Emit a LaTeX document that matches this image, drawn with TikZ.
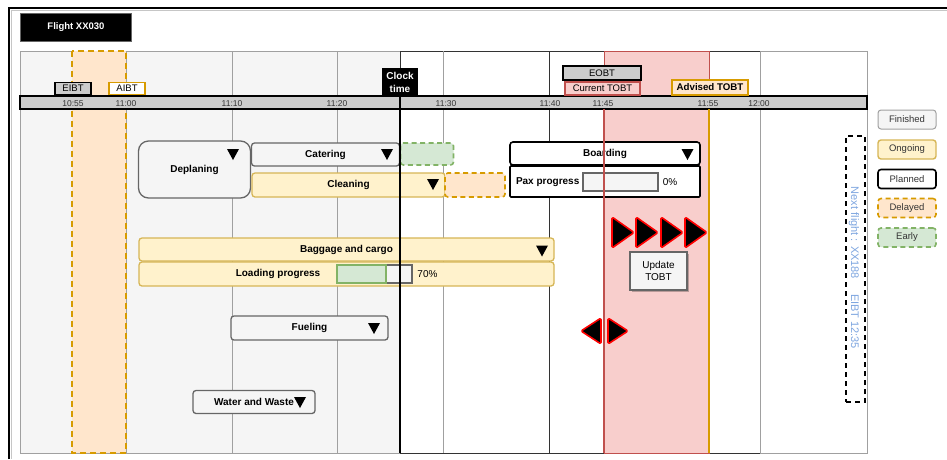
\documentclass[tikz,border=0pt]{standalone}
\usepackage{fontspec}
\setmainfont{Liberation Sans}
\usetikzlibrary{shadows}

\definecolor{pastfill}{HTML}{F5F5F5}
\definecolor{gridgray}{HTML}{A0A0A0}
\definecolor{griddark}{HTML}{333333}
\definecolor{finfill}{HTML}{F5F5F5}
\definecolor{finline}{HTML}{666666}
\definecolor{ongfill}{HTML}{FFF2CC}
\definecolor{ongline}{HTML}{D6B656}
\definecolor{delfill}{HTML}{FFE6CC}
\definecolor{delline}{HTML}{D79B00}
\definecolor{earlyfill}{HTML}{D5E8D4}
\definecolor{earlyline}{HTML}{82B366}
\definecolor{tobtfill}{HTML}{F8CECC}
\definecolor{tobtline}{HTML}{C0504D}
\definecolor{barfill}{HTML}{CCCCCC}
\definecolor{txtgray}{HTML}{333333}
\definecolor{nextblue}{HTML}{7EA6E0}

\begin{document}
\begin{tikzpicture}[x=1pt,y=-1pt,
  every node/.style={font=\fontsize{10}{12}\selectfont, inner sep=0pt, outer sep=0pt},
  task/.style={draw=finline, fill=finfill, line width=1.3pt, rounded corners=3pt,
    font=\fontsize{10}{12}\selectfont\bfseries},
  ongoing/.style={task, draw=ongline, fill=ongfill},
  planned/.style={task, draw=black, fill=white, line width=1.6pt},
  latebox/.style={fill=delfill, draw=delline, line width=1.6pt, rounded corners=3pt,
    dash pattern=on 5pt off 3.5pt},
  earlybox/.style={fill=earlyfill, draw=earlyline, line width=1.6pt, rounded corners=3pt,
    dash pattern=on 5pt off 3.5pt},
  tick/.style={font=\fontsize{8.5}{10}\selectfont, text=txtgray},
  stamp/.style={draw=black, line width=1.6pt, fill=barfill, font=\fontsize{9.5}{11}\selectfont},
  legendbox/.style={rounded corners=3pt, minimum width=58pt, minimum height=19pt,
    font=\fontsize{9.5}{11}\selectfont, text=txtgray},
  redtri/.style={fill=black, draw=red, line width=1.6pt, line join=round, rounded corners=1.5pt},
  pics/ddtri/.style={code={\fill[black] (-6,-5.5) -- (6,-5.5) -- (0,5.5) -- cycle;}},
]
\useasboundingbox (0,0) rectangle (947,459);

% ---------- time grid ----------
\fill[pastfill] (20,51) rectangle (400,453);
\fill[white] (400,51) rectangle (867,453);
\fill[tobtfill] (604,51) rectangle (709,453);
\draw[gridgray, line width=0.8pt] (20,51) rectangle (867,453);
\draw[griddark, line width=0.8pt] (400,51) -- (604,51) (709,51) -- (760,51)
  (400,453) -- (604,453) (709,453) -- (760,453);
\foreach \x in {126,232,337,443,760}
  \draw[gridgray, line width=0.8pt] (\x,51) -- (\x,453);
\draw[griddark, line width=0.8pt] (400,51) -- (400,96);
\draw[griddark, line width=0.8pt] (549,51) -- (549,453);
\draw[tobtline, line width=0.8pt] (604,51) rectangle (709,453);

% arrival window (delayed)
\draw[fill=delfill, draw=delline, line width=2pt, dash pattern=on 6pt off 4pt]
  (72,51) rectangle (126,453);

% ---------- timeline bar ----------
\node[draw=black, fill=barfill, line width=1.8pt, minimum width=847pt, minimum height=13pt]
  (timeline) at (443.5,102.5) {};
\foreach \t/\x in {10:55/73, 11:00/126, 11:10/232, 11:20/337, 11:30/446,
                   11:40/550, 11:45/603, 11:55/708, 12:00/759}
  \node[tick] (tick-\x) at (\x,103.5) {\t};

% ---------- time stamps ----------
\node[stamp, minimum width=36pt, minimum height=12pt] (eibt) at (73,88.5) {EIBT};
\node[stamp, fill=white, draw=delline, minimum width=36pt, minimum height=12pt]
  (aibt) at (127,88.5) {AIBT};
\node[fill=black, text=white, align=center, minimum width=36pt, minimum height=28pt,
  font=\fontsize{10}{13}\selectfont\bfseries] (clock) at (400,82) {Clock\\time};
\node[stamp, minimum width=78pt, minimum height=14pt] (eobt) at (602,73) {EOBT};
\node[stamp, fill=tobtfill, draw=tobtline, line width=1.4pt, minimum width=75pt,
  minimum height=13pt] (curtobt) at (602.5,88.5) {Current TOBT};
\node[stamp, fill=delfill, draw=delline, minimum width=76pt, minimum height=15pt,
  font=\fontsize{9.7}{11}\selectfont\bfseries] (advtobt) at (710,87.5) {Advised TOBT};

% ---------- turnaround tasks ----------
\node[task, minimum width=112pt, minimum height=57pt, rounded corners=10pt]
  (deplaning) at (194.5,169.5) {Deplaning};
\pic at (233,154.5) {ddtri};

\node[task, minimum width=148pt, minimum height=23pt] (catering) at (325.5,154.5) {Catering};
\pic at (387,154.5) {ddtri};
\node[earlybox, minimum width=53pt, minimum height=22pt] (cateringearly) at (427,154) {};

\node[ongoing, minimum width=193pt, minimum height=24pt] (cleaning) at (348.5,185) {Cleaning};
\pic at (433,184.5) {ddtri};
\node[latebox, minimum width=60pt, minimum height=24pt] (cleaninglate) at (475,185) {};

\node[planned, minimum width=190pt, minimum height=23pt] (boarding) at (605,153.5) {Boarding};
\pic at (687.5,154.5) {ddtri};
\node[planned, rounded corners=1pt, minimum width=190pt, minimum height=31pt]
  (pax) at (605,181.5) {};
\node[font=\fontsize{10}{12}\selectfont\bfseries, anchor=west] (paxlbl) at (516,182) {Pax progress};
\node[draw=finline, fill=finfill, line width=1.4pt, minimum width=75pt, minimum height=18pt]
  (paxbar) at (620.5,182) {};
\node (paxpct) at (670,182) {0\%};

\node[ongoing, minimum width=415pt, minimum height=23pt] (baggage) at (346.5,249.5) {Baggage and cargo};
\pic at (542,251) {ddtri};
\node[ongoing, minimum width=415pt, minimum height=24pt] (loading) at (346.5,274) {};
\node[font=\fontsize{10}{12}\selectfont\bfseries] (loadlbl) at (278,274) {Loading progress};
\node[draw=finline, fill=finfill, line width=1.4pt, minimum width=75pt, minimum height=18pt]
  (loadbar) at (374.5,274) {};
\node[draw=earlyline, fill=earlyfill, line width=1.4pt, minimum width=49pt, minimum height=18pt]
  (loaddone) at (361.5,274) {};
\node (loadpct) at (427.5,274) {70\%};

\node[task, minimum width=157pt, minimum height=24pt] (fueling) at (309.5,328) {Fueling};
\pic at (374,328.5) {ddtri};

\node[task, minimum width=122pt, minimum height=23pt] (water) at (254,402) {Water and Waste};
\pic at (300,402.5) {ddtri};

% ---------- current time and TOBT markers ----------
\coordinate (clockfoot) at (400,453);
\draw[black, line width=2pt] (clock.south) -- (clockfoot);
\coordinate (tobttop) at (604,109);
\coordinate (tobtfoot) at (604,453);
\draw[tobtline, line width=1.8pt] (tobttop) -- (tobtfoot);
\coordinate (advtop) at (709,109);
\coordinate (advfoot) at (709,453);
\draw[delline, line width=2pt] (advtop) -- (advfoot);

% fast-forward and step arrows
\foreach \x in {612,636,661,685}
  \path[redtri] (\x,217) -- (\x,248) -- (\x+22,232.5) -- cycle;
\path[redtri] (601,318) -- (601,344) -- (581,331) -- cycle;
\path[redtri] (608,318) -- (608,344) -- (628,331) -- cycle;

\node[draw=finline, fill=finfill, line width=1.4pt, minimum width=57pt, minimum height=38pt,
  align=center, font=\fontsize{10}{12.5}\selectfont,
  drop shadow={shadow xshift=1.5pt, shadow yshift=-1.5pt, fill=black, opacity=0.25}]
  (update) at (658.5,271) {Update\\TOBT};

% ---------- next flight ----------
\node[draw=black, fill=white, line width=1.8pt, dash pattern=on 5pt off 4pt,
  minimum width=19pt, minimum height=266pt] (nextbox) at (855.5,269) {};
\node[rotate=-90, text=nextblue, font=\fontsize{11}{13}\selectfont] (nexttxt) at (854,268)
  {Next flight : XX188\hspace{15pt}EIBT 12:35};

% ---------- legend ----------
\node[legendbox, fill=finfill, draw=gridgray, line width=1pt] (lgfin) at (907,119.5) {Finished};
\node[legendbox, fill=ongfill, draw=ongline, line width=1.4pt] (lgong) at (907,149.5) {Ongoing};
\node[legendbox, fill=white, draw=black, line width=1.6pt] (lgplan) at (907,179) {Planned};
\node[legendbox, latebox] (lgdel) at (907,208) {Delayed};
\node[legendbox, earlybox] (lgearly) at (907,237.5) {Early};

% ---------- frame and title ----------
\draw[gray!45, line width=1.2pt] (11.5,459) -- (11.5,10.5) -- (947,10.5);
\draw[black, line width=2.5pt] (9,459) -- (9,8) -- (947,8);
\node[fill=black, draw=finline, line width=1.5pt, text=white, minimum width=111pt,
  minimum height=28pt, font=\fontsize{9.5}{11}\selectfont\bfseries] (title) at (76,27.5) {Flight XX030};
\end{tikzpicture}
\end{document}
